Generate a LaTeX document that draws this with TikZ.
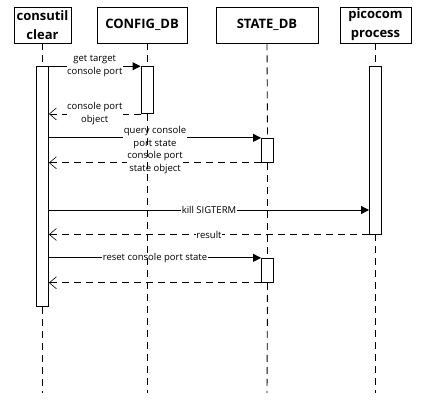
\documentclass[tikz,border=0pt]{standalone}
\usepackage{fontspec}
\setmainfont{Open Sans}
\usetikzlibrary{arrows.meta}

\begin{document}
\begin{tikzpicture}[x=1pt, y=-1pt, line width=0.9pt,
  actor/.style={draw, inner sep=0pt, minimum height=36pt, align=center,
    font=\bfseries\fontsize{13}{19}\selectfont},
  lifeline/.style={dash pattern=on 7pt off 5pt},
  activation/.style={draw, fill=white, minimum width=12pt, inner sep=0pt},
  call/.style={-{Triangle[length=8pt,width=8pt]}},
  reply/.style={dash pattern=on 7pt off 5pt,
    -{Straight Barb[length=7pt,width=12pt,line width=0.6pt]}},
  msg/.style={fill=white, inner sep=0.5pt, align=center,
    font=\fontsize{9.5}{13}\selectfont}]
  \useasboundingbox (0,0) rectangle (422,401);
  % participants
  \node[actor, minimum width=57pt] (cc) at (42.5,25) {consutil\\clear};
  \node[actor, minimum width=90pt] (cfg) at (142,25) {CONFIG\_DB};
  \node[actor, minimum width=102pt] (sdb) at (267,25) {STATE\_DB};
  \node[actor, minimum width=71pt] (pico) at (375.5,25) {picocom\\process};
  \coordinate (ccend) at (42.5,393);
  \coordinate (cfgend) at (147,393);
  \coordinate (sdbend) at (267,393);
  \coordinate (picoend) at (375.5,393);
  % activations
  \node[activation, minimum height=240pt] (acc) at (42.5,186.7) {};
  \node[activation, minimum height=46.8pt] (acfg) at (147,90.1) {};
  \node[activation, minimum height=24pt] (asdbA) at (267.5,150.3) {};
  \node[activation, minimum height=24pt] (asdbB) at (267.5,270.3) {};
  \node[activation, minimum height=167.3pt] (apico) at (375.5,150.35) {};
  % messages
  \draw[call] (acc.east |- acfg.north) -- (acfg.north west)
    node[msg, midway] {get target\\console port};
  \draw[reply] (acfg.south west) -- (acc.east |- acfg.south)
    node[msg, midway] {console port\\object};
  \draw[call] (acc.east |- asdbA.north) -- (asdbA.north west)
    node[msg, midway] {query console\\port state};
  \draw[reply] (asdbA.south west) -- (acc.east |- asdbA.south)
    node[msg, midway] {console port\\state object};
  \coordinate (kill) at (0,210);
  \draw[call] (acc.east |- kill) -- (apico.west |- kill)
    node[msg, midway] {kill SIGTERM};
  \draw[reply] (apico.south west) -- (acc.east |- apico.south)
    node[msg, midway] {result};
  \draw[call] (acc.east |- asdbB.north) -- (asdbB.north west)
    node[msg, midway] {reset console port state};
  \draw[reply] (asdbB.south west) -- (acc.east |- asdbB.south);
  % lifelines
  \draw[lifeline] (cc.south) -- (acc.north);
  \draw[lifeline] (acc.south) -- (ccend);
  \draw[lifeline] (cfg.south -| cfgend) -- (acfg.north);
  \draw[lifeline] (acfg.south) -- (cfgend);
  \draw[lifeline] (sdb.south) -- (asdbA.north);
  \draw[lifeline] (asdbA.south) -- (asdbB.north);
  \draw[lifeline] (asdbB.south) -- (sdbend);
  \draw[lifeline] (pico.south) -- (apico.north);
  \draw[lifeline] (apico.south) -- (picoend);
\end{tikzpicture}
\end{document}
